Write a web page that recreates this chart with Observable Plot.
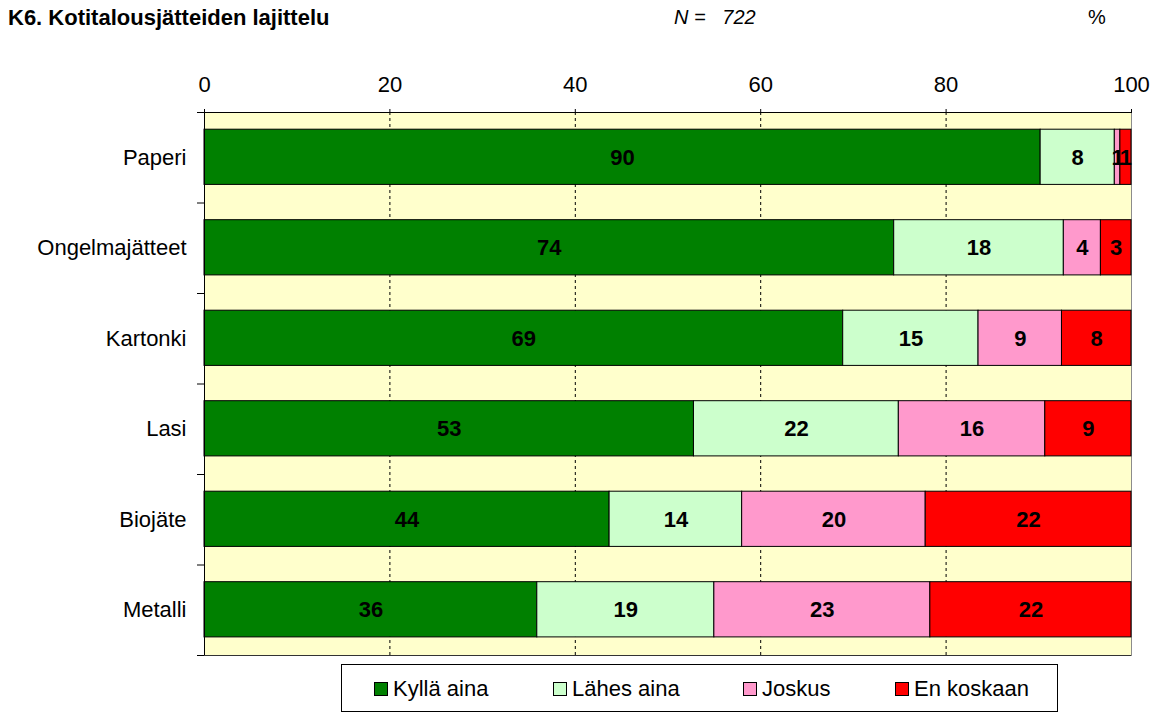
<!DOCTYPE html>
<html>
<head>
<meta charset="utf-8">
<script src="https://cdn.jsdelivr.net/npm/d3@7"></script>
<script src="https://cdn.jsdelivr.net/npm/@observablehq/plot@0.6"></script>
<style>
  html, body { margin: 0; padding: 0; background: #ffffff; }
  #wrap { position: relative; width: 1155px; height: 713px; overflow: hidden; font-family: "Liberation Sans", Arial, sans-serif; color: #000; }
  #chart { position: absolute; left: 0; top: 0; }
  .hdr { position: absolute; font-size: 22px; white-space: nowrap; line-height: 1; }
  #legend { position: absolute; left: 341px; top: 664px; width: 715px; height: 46px; border: 1px solid #000; background: #fff; box-sizing: content-box; }
  .item { position: absolute; top: 13px; font-size: 22px; line-height: 1; white-space: nowrap; display: flex; align-items: center; }
  .sw { display: inline-block; width: 12px; height: 12px; border: 1px solid #000; margin-right: 5px; }
</style>
</head>
<body>
<div id="wrap">
  <div id="chart"></div>
  <div class="hdr" id="title" style="left:8px; top:7px; font-weight:bold;">K6. Kotitalousjätteiden lajittelu</div>
  <div class="hdr" id="nlabel" style="left:674px; top:7px; font-style:italic; font-size:20px;">N =&nbsp;&nbsp; 722</div>
  <div class="hdr" id="pct" style="left:1088px; top:7px; font-size:20px;">%</div>
  <div id="legend"></div>
</div>
<script>
// ---- data ----
const categories = ["Paperi", "Ongelmajätteet", "Kartonki", "Lasi", "Biojäte", "Metalli"];
const seriesNames = ["Kyllä aina", "Lähes aina", "Joskus", "En koskaan"];
const seriesColors = ["#008000", "#CCFFCC", "#FF99CC", "#FF0000"];
const kyllaAina = [90.2, 74.4, 68.9, 52.8, 43.7, 35.9];
const lahesAina = [8.0, 18.3, 14.6, 22.1, 14.3, 19.1];
const joskus    = [0.6, 4.0, 9.0, 15.8, 19.8, 23.3];
const enKoskaan = [1.2, 3.3, 7.5, 9.3, 22.2, 21.7];
const xTicks = [0, 20, 40, 60, 80, 100];
const gridTicks = [20, 40, 60, 80];

// ---- build stacked rows ----
const seriesValues = [kyllaAina, lahesAina, joskus, enKoskaan];
const rows = [];
categories.forEach((cat, i) => {
  let acc = 0;
  seriesValues.forEach((vals, s) => {
    const v = vals[i];
    rows.push({cat, idx: i, series: seriesNames[s], value: v, x1: acc, x2: acc + v, label: String(Math.round(v))});
    acc += v;
  });
});

const padTop = 0.19, padBot = 0.80;
const bandEdges = d3.range(categories.length + 1);
const bandMids = categories.map((c, i) => i + 0.5);

const chart = Plot.plot({
  width: 1155,
  height: 713,
  marginTop: 112,
  marginLeft: 204,
  marginRight: 24,
  marginBottom: 58,
  style: {fontFamily: "'Liberation Sans', Arial, sans-serif", fontSize: "22px", background: "transparent", overflow: "visible"},
  x: {domain: [0, 100], axis: null},
  y: {domain: [0, categories.length], reverse: true, axis: null},
  color: {domain: seriesNames, range: seriesColors},
  marks: [
    Plot.frame({fill: "#FFFFCC", stroke: "#8c8c8c"}),
    Plot.ruleX(gridTicks, {stroke: "#000", strokeDasharray: "3,3", strokeWidth: 1}),
    Plot.rect(rows, {x1: "x1", x2: "x2", y1: d => d.idx + padTop, y2: d => d.idx + padBot, fill: "series", stroke: "#000", strokeWidth: 1}),
    Plot.text(rows, {x: d => (d.x1 + d.x2) / 2, y: d => d.idx + 0.5, text: "label", fontWeight: "bold", fontSize: 22, fill: "#000"}),
    Plot.ruleY([0], {stroke: "#000"}),
    Plot.ruleY([categories.length], {stroke: "#333"}),
    Plot.ruleX([0], {stroke: "#000"}),
    Plot.axisX({anchor: "top", ticks: xTicks, tickSize: 4, tickPadding: 17, label: null, fontSize: 22, stroke: "#000"}),
    Plot.axisY({anchor: "left", ticks: bandEdges, tickFormat: () => "", tickSize: 7, label: null}),
    Plot.axisY({anchor: "left", ticks: bandMids, tickFormat: (d) => categories[Math.round(d - 0.5)], tickSize: 0, tickPadding: 18, label: null, fontSize: 22})
  ]
});
document.getElementById("chart").appendChild(chart);

// ---- legend ----
const legendX = [32, 211, 401, 553];
const legend = document.getElementById("legend");
seriesNames.forEach((name, i) => {
  const item = document.createElement("div");
  item.className = "item";
  item.style.left = legendX[i] + "px";
  const sw = document.createElement("span");
  sw.className = "sw";
  sw.style.background = seriesColors[i];
  item.appendChild(sw);
  item.appendChild(document.createTextNode(name));
  legend.appendChild(item);
});
</script>
</body>
</html>
